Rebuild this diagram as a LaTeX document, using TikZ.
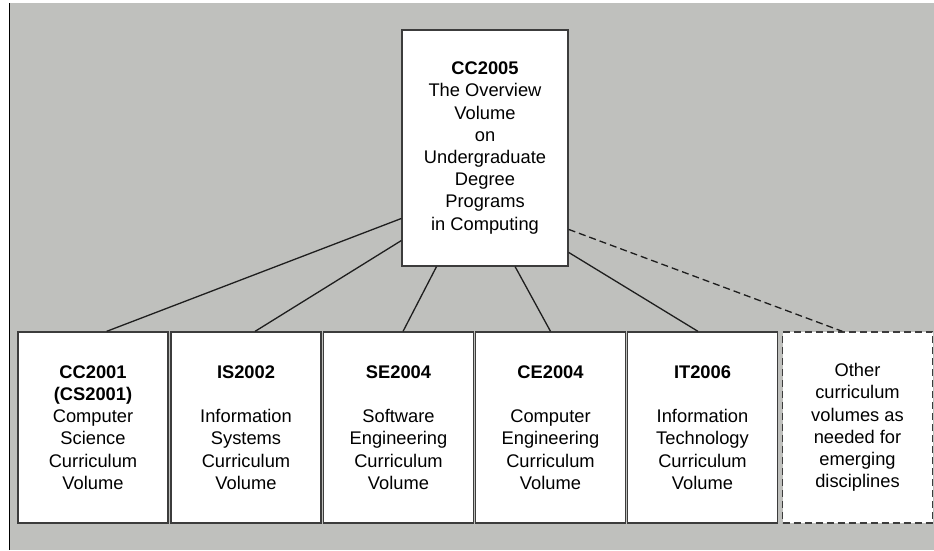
\documentclass[tikz,border=0pt]{standalone}
\usepackage{fontspec}
\setmainfont{Liberation Sans}
\usetikzlibrary{calc}
\definecolor{bggray}{RGB}{191,192,189}
\definecolor{boxline}{RGB}{60,60,60}
\definecolor{conn}{RGB}{30,30,30}
\begin{document}
\begin{tikzpicture}[x=1pt,y=-1pt,
  volbox/.style={draw=boxline, line width=1.3pt, fill=white, inner sep=0pt,
    align=center, font=\fontsize{18.3}{22.2}\selectfont, text=black},
  botbox/.style={volbox, minimum width=150pt, minimum height=191pt},
  link/.style={draw=conn, line width=1.3pt},
  dashlink/.style={link, dash pattern=on 7pt off 4pt}]
\useasboundingbox (0,0) rectangle (934,550);
\fill[bggray] (10,3) rectangle (934,550);
\draw[black, line width=1.5pt] (9.5,3) -- (9.5,550);

\node[volbox, minimum width=166pt, minimum height=236pt] (top) at (485,148)
  {\textbf{CC2005}\\The Overview\\Volume\\on\\Undergraduate\\Degree\\Programs\\in Computing};

\node[botbox] (b1) at (93,427.5)
  {\textbf{CC2001}\\\textbf{(CS2001)}\\Computer\\Science\\Curriculum\\Volume};
\node[botbox] (b2) at (246,427.5)
  {\textbf{IS2002}\\\strut\\Information\\Systems\\Curriculum\\Volume};
\node[botbox] (b3) at (398.5,427.5)
  {\textbf{SE2004}\\\strut\\Software\\Engineering\\Curriculum\\Volume};
\node[botbox] (b4) at (550.5,427.5)
  {\textbf{CE2004}\\\strut\\Computer\\Engineering\\Curriculum\\Volume};
\node[botbox] (b5) at (702.5,427.5)
  {\textbf{IT2006}\\\strut\\Information\\Technology\\Curriculum\\Volume};
\node[botbox, dash pattern=on 7pt off 4pt] (b6) at (857.5,427.5)
  {Other\\curriculum\\volumes as\\needed for\\emerging\\disciplines};

\draw[link] ($(top.north west)!0.797!(top.south west)$) -- ($(b1.north west)!0.59!(b1.north east)$);
\draw[link] ($(top.north west)!0.89!(top.south west)$) -- ($(b2.north west)!0.56!(b2.north east)$);
\draw[link] ($(top.south west)!0.21!(top.south east)$) -- ($(b3.north west)!0.53!(b3.north east)$);
\draw[link] ($(top.south west)!0.68!(top.south east)$) -- ($(b4.north west)!0.50!(b4.north east)$);
\draw[link] ($(top.north east)!0.94!(top.south east)$) -- ($(b5.north west)!0.47!(b5.north east)$);
\draw[dashlink] ($(top.north east)!0.843!(top.south east)$) -- ($(b6.north west)!0.40!(b6.north east)$);
\end{tikzpicture}
\end{document}
